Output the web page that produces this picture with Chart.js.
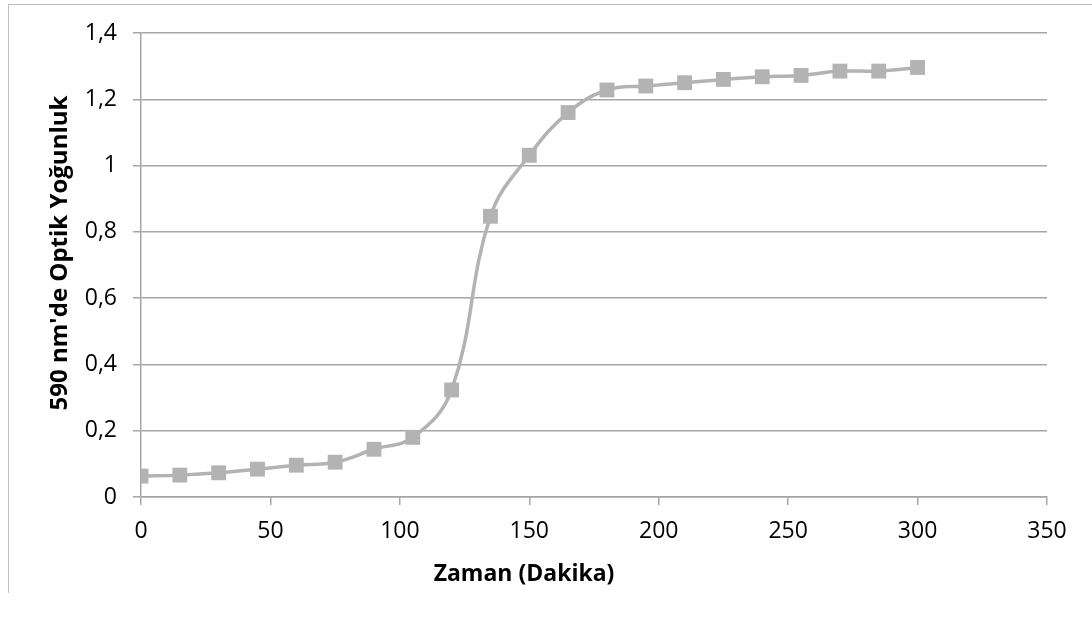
<!DOCTYPE html>
<html>
<head>
<meta charset="utf-8">
<script src="https://cdn.jsdelivr.net/npm/chart.js@4"></script>
<style>
  html, body { margin: 0; padding: 0; background: #fff; }
  #wrap { position: relative; width: 1092px; height: 619px; }
  #frame { position: absolute; left: 8px; top: 4px; width: 1084px; height: 588px;
           border-left: 1px solid #bfbfbf; border-top: 1px solid #bfbfbf; }
  canvas { position: absolute; left: 0; top: 0; }
</style>
</head>
<body>
<div id="wrap">
  <div id="frame"></div>
  <canvas id="odChart" width="1092" height="619"></canvas>
</div>
<script>
// zaman (dakika) ve 590 nm optik yoğunluk
const timeMin = [0, 15, 30, 45, 60, 75, 90, 105, 120, 135, 150, 165, 180, 195, 210, 225, 240, 255, 270, 285, 300];
const odValues = [0.063, 0.066, 0.073, 0.084, 0.096, 0.105, 0.144, 0.180, 0.323, 0.847, 1.031, 1.160, 1.228, 1.240, 1.250, 1.260, 1.268, 1.272, 1.285, 1.285, 1.296];
const xTitle = "Zaman (Dakika)";
const yTitle = "590 nm'de Optik Yoğunluk";

const FONT = "'Open Sans', 'Liberation Sans', sans-serif";
const GRID = "#a6a6a6";
const SERIES = "#b3b3b3";

const points = timeMin.map((t, i) => ({ x: t, y: odValues[i] }));

// eksen başlıkları (Excel gibi yerleştirme)
const axisTitles = {
  id: "axisTitles",
  afterDraw(chart) {
    const c = chart.ctx;
    c.save();
    c.fillStyle = "#000";
    c.textAlign = "center";
    c.textBaseline = "middle";
    c.font = "bold 23px " + FONT;
    c.fillText(xTitle, 524, 574);
    c.font = "bold 24px " + FONT;
    c.translate(60, 253);
    c.rotate(-Math.PI / 2);
    c.fillText(yTitle, 0, 0);
    c.restore();
  },
};

new Chart(document.getElementById("odChart"), {
  type: "scatter",
  data: {
    datasets: [
      {
        data: points,
        showLine: true,
        borderColor: SERIES,
        borderWidth: 3.5,
        tension: 0.4,
        pointStyle: "rect",
        pointRadius: 10.5,
        pointHoverRadius: 10.5,
        pointBackgroundColor: SERIES,
        pointBorderColor: SERIES,
        pointBorderWidth: 0,
      },
    ],
  },
  options: {
    responsive: false,
    animation: false,
    layout: { padding: { left: 0, right: 45, top: 33, bottom: 0 } },
    plugins: { legend: { display: false }, tooltip: { enabled: false } },
    scales: {
      x: {
        type: "linear",
        min: 0,
        max: 350,
        ticks: { stepSize: 50, color: "#000", font: { family: FONT, size: 23 }, padding: 13, maxRotation: 0 },
        grid: { drawOnChartArea: false, drawTicks: true, tickLength: 8, color: GRID, lineWidth: 1.5 },
        border: { color: GRID, width: 1.5 },
        afterFit(s) { s.height = 619 - 497; },
      },
      y: {
        min: 0,
        max: 1.4,
        ticks: {
          stepSize: 0.2,
          color: "#000",
          font: { family: FONT, size: 23 },
          padding: 16,
          callback: (v) => String(Math.round(v * 10) / 10).replace(".", ","),
        },
        grid: { color: GRID, lineWidth: 1.5, tickLength: 8 },
        border: { color: GRID, width: 1.5 },
        afterFit(s) { s.width = 141; },
      },
    },
  },
  plugins: [axisTitles],
});
</script>
</body>
</html>
